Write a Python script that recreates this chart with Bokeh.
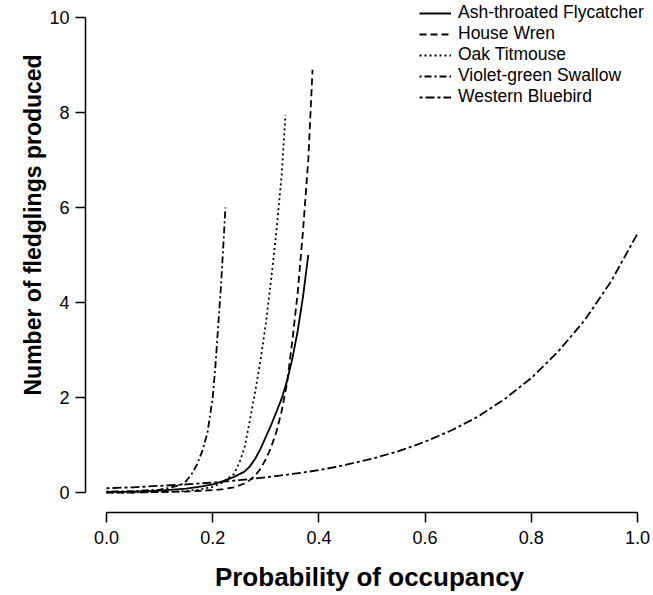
from bokeh.plotting import figure
from bokeh.models import FixedTicker, Range1d, Title
from bokeh.embed import file_html
from bokeh.resources import INLINE

# ---- data ----
species = ["Ash-throated Flycatcher", "House Wren", "Oak Titmouse",
           "Violet-green Swallow", "Western Bluebird"]

atfl_x = [0.00, 0.05, 0.10, 0.15, 0.18, 0.20, 0.22, 0.24, 0.26, 0.27, 0.28, 0.29,
          0.30, 0.31, 0.32, 0.33, 0.34, 0.35, 0.36, 0.37, 0.38]
atfl_y = [0.01, 0.02, 0.04, 0.08, 0.13, 0.17, 0.24, 0.33, 0.44, 0.55, 0.71, 0.92,
          1.17, 1.42, 1.70, 1.98, 2.35, 2.82, 3.40, 4.12, 5.00]

howr_x = [0.00, 0.05, 0.10, 0.15, 0.20, 0.22, 0.24, 0.26, 0.27, 0.28, 0.29, 0.30,
          0.31, 0.32, 0.33, 0.34, 0.35, 0.36, 0.37, 0.38, 0.388]
howr_y = [0.00, 0.00, 0.01, 0.02, 0.05, 0.07, 0.11, 0.19, 0.26, 0.36, 0.50, 0.70,
          0.95, 1.28, 1.72, 2.30, 3.20, 4.20, 5.50, 7.00, 8.90]

oati_x = [0.00, 0.05, 0.10, 0.15, 0.18, 0.20, 0.22, 0.24, 0.25, 0.26, 0.27, 0.28,
          0.29, 0.30, 0.31, 0.32, 0.33, 0.337]
oati_y = [0.00, 0.00, 0.01, 0.03, 0.07, 0.12, 0.22, 0.39, 0.62, 0.95, 1.52, 2.12,
          2.78, 3.55, 4.48, 5.50, 6.70, 7.95]

vgsw_x = [0.00, 0.05, 0.10, 0.12, 0.14, 0.15, 0.16, 0.17, 0.18, 0.19, 0.20, 0.205,
          0.21, 0.215, 0.22, 0.224]
vgsw_y = [0.02, 0.03, 0.06, 0.10, 0.16, 0.24, 0.38, 0.58, 0.86, 1.25, 2.00, 2.65,
          3.45, 4.25, 5.20, 6.00]

webl_x = [0.00, 0.05, 0.10, 0.15, 0.20, 0.25, 0.30, 0.35, 0.40, 0.45, 0.50, 0.55,
          0.60, 0.65, 0.70, 0.75, 0.80, 0.85, 0.90, 0.95, 1.00]
webl_y = [0.09, 0.11, 0.14, 0.17, 0.21, 0.26, 0.32, 0.39, 0.47, 0.58, 0.71, 0.87,
          1.07, 1.31, 1.60, 1.97, 2.41, 2.96, 3.62, 4.44, 5.45]

x_ticks = [0.0, 0.2, 0.4, 0.6, 0.8, 1.0]
x_tick_labels = ["0.0", "0.2", "0.4", "0.6", "0.8", "1.0"]
y_ticks = [0, 2, 4, 6, 8, 10]
y_tick_labels = ["0", "2", "4", "6", "8", "10"]

series_x = [atfl_x, howr_x, oati_x, vgsw_x, webl_x]
series_y = [atfl_y, howr_y, oati_y, vgsw_y, webl_y]
dashes = ["solid", "7 4", "2 3", "2 3 7 3", "3 3 9 3"]

FONT = "Liberation Sans"

p = figure(width=653, height=595, output_backend="svg", toolbar_location=None,
           x_range=Range1d(-0.03955, 1.0301), y_range=Range1d(-0.421, 10.358),
           min_border_left=85, min_border_right=0, min_border_top=0,
           min_border_bottom=83)
p.outline_line_color = None
p.xgrid.visible = False
p.ygrid.visible = False
p.background_fill_color = "white"
p.border_fill_color = "white"

for name, xs, ys, d in zip(species, series_x, series_y, dashes):
    p.line(xs, ys, line_color="black", line_width=1.8, line_dash=d, legend_label=name)

for ax, ticks, labels in ((p.xaxis[0], x_ticks, x_tick_labels), (p.yaxis[0], y_ticks, y_tick_labels)):
    ax.ticker = FixedTicker(ticks=ticks)
    ax.major_label_overrides = dict(zip(ticks, labels))
    ax.bounds = (ticks[0], ticks[-1])
    ax.axis_line_width = 1.5
    ax.axis_line_color = "black"
    ax.major_tick_line_width = 1.5
    ax.major_tick_line_color = "black"
    ax.major_tick_out = 10
    ax.major_tick_in = 0
    ax.minor_tick_line_color = None
    ax.major_label_text_font = FONT
    ax.major_label_text_font_size = "18px"
    ax.major_label_text_color = "black"

p.xaxis[0].major_label_standoff = 8
p.yaxis[0].major_label_standoff = 6

p.xaxis[0].axis_label = "Probability of occupancy"
p.xaxis[0].axis_label_text_font = FONT
p.xaxis[0].axis_label_text_font_size = "26px"
p.xaxis[0].axis_label_text_font_style = "bold"
p.xaxis[0].axis_label_text_color = "black"
p.xaxis[0].axis_label_standoff = 15

ytitle = Title(text="Number of fledglings produced", align="left", offset=117,
               vertical_align="bottom", standoff=2, text_font=FONT,
               text_font_size="23px", text_font_style="bold", text_color="black")
p.add_layout(ytitle, "left")

lg = p.legend[0]
lg.location = (334, 405)
lg.border_line_color = None
lg.background_fill_alpha = 0
lg.padding = 0
lg.margin = 0
lg.spacing = 0
lg.glyph_width = 32
lg.glyph_height = 20
lg.label_height = 20
lg.label_standoff = 7
lg.label_text_font = FONT
lg.label_text_font_size = "17.5px"
lg.label_text_color = "black"

open("out.html", "w").write(file_html(p, INLINE))
